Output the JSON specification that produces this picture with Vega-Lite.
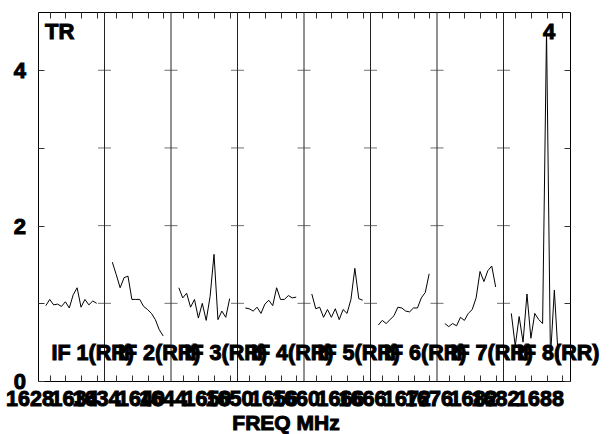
{
  "$schema": "https://vega.github.io/schema/vega-lite/v6.json",
  "width": 532,
  "height": 369,
  "autosize": {"type": "none"},
  "padding": {"left": 38, "top": 12, "right": 44, "bottom": 53},
  "background": "white",
  "config": {
    "view": {"stroke": "black", "strokeWidth": 1},
    "font": "Liberation Sans",
    "axis": {"grid": false, "domain": false, "tickColor": "#333", "tickWidth": 1},
    "text": {"font": "Liberation Sans", "fontWeight": "bold", "color": "black", "stroke": "black", "strokeWidth": 1, "baseline": "alphabetic"}
  },
  "datasets": {
    "ifs": [
      {"ifn": 1, "start": 0, "label": "IF 1(RR)", "fa": "1628", "fb": "1634"},
      {"ifn": 2, "start": 17, "label": "IF 2(RR)", "fa": "1634", "fb": "1640"},
      {"ifn": 3, "start": 34, "label": "IF 3(RR)", "fa": "1644", "fb": "1650"},
      {"ifn": 4, "start": 51, "label": "IF 4(RR)", "fa": "1650", "fb": "1656"},
      {"ifn": 5, "start": 68, "label": "IF 5(RR)", "fa": "1660", "fb": "1666"},
      {"ifn": 6, "start": 85, "label": "IF 6(RR)", "fa": "1666", "fb": "1672"},
      {"ifn": 7, "start": 102, "label": "IF 7(RR)", "fa": "1676", "fb": "1682"},
      {"ifn": 8, "start": 119, "label": "IF 8(RR)", "fa": "1682", "fb": "1688"}
    ],
    "ylab": [{"v": 0}, {"v": 2}, {"v": 4}],
    "notes": [{"t": "TR", "x": 0, "y": 4.75}, {"t": "4", "x": 130, "y": 4.75}, {"t": "FREQ MHz", "x": 63.4, "y": 0}],
    "spec": [
      {"ifn": 1, "x": 2, "v": 0.97}, {"ifn": 1, "x": 3, "v": 1.05}, {"ifn": 1, "x": 4, "v": 0.98}, {"ifn": 1, "x": 5, "v": 0.99},
      {"ifn": 1, "x": 6, "v": 0.96}, {"ifn": 1, "x": 7, "v": 1.02}, {"ifn": 1, "x": 8, "v": 0.94}, {"ifn": 1, "x": 9, "v": 1.11},
      {"ifn": 1, "x": 10, "v": 1.2}, {"ifn": 1, "x": 11, "v": 0.95}, {"ifn": 1, "x": 12, "v": 1.05}, {"ifn": 1, "x": 13, "v": 0.98},
      {"ifn": 1, "x": 14, "v": 1.03}, {"ifn": 1, "x": 15, "v": 1.0},
      {"ifn": 2, "x": 19, "v": 1.53}, {"ifn": 2, "x": 20, "v": 1.37}, {"ifn": 2, "x": 21, "v": 1.2}, {"ifn": 2, "x": 22, "v": 1.33},
      {"ifn": 2, "x": 23, "v": 1.35}, {"ifn": 2, "x": 24, "v": 1.05}, {"ifn": 2, "x": 25, "v": 1.05}, {"ifn": 2, "x": 26, "v": 1.05},
      {"ifn": 2, "x": 27, "v": 0.96}, {"ifn": 2, "x": 28, "v": 0.92}, {"ifn": 2, "x": 29, "v": 0.87}, {"ifn": 2, "x": 30, "v": 0.79},
      {"ifn": 2, "x": 31, "v": 0.66}, {"ifn": 2, "x": 32, "v": 0.58},
      {"ifn": 3, "x": 36, "v": 1.2}, {"ifn": 3, "x": 37, "v": 1.07}, {"ifn": 3, "x": 38, "v": 1.13}, {"ifn": 3, "x": 39, "v": 0.95},
      {"ifn": 3, "x": 40, "v": 1.05}, {"ifn": 3, "x": 41, "v": 0.81}, {"ifn": 3, "x": 42, "v": 1.0}, {"ifn": 3, "x": 43, "v": 0.78},
      {"ifn": 3, "x": 44, "v": 1.09}, {"ifn": 3, "x": 45, "v": 1.63}, {"ifn": 3, "x": 46, "v": 0.79}, {"ifn": 3, "x": 47, "v": 0.9},
      {"ifn": 3, "x": 48, "v": 0.82}, {"ifn": 3, "x": 49, "v": 1.06},
      {"ifn": 4, "x": 53, "v": 0.94}, {"ifn": 4, "x": 54, "v": 0.93}, {"ifn": 4, "x": 55, "v": 0.9}, {"ifn": 4, "x": 56, "v": 0.95},
      {"ifn": 4, "x": 57, "v": 0.87}, {"ifn": 4, "x": 58, "v": 0.99}, {"ifn": 4, "x": 59, "v": 1.04}, {"ifn": 4, "x": 60, "v": 0.97},
      {"ifn": 4, "x": 61, "v": 1.2}, {"ifn": 4, "x": 62, "v": 1.05}, {"ifn": 4, "x": 63, "v": 1.05}, {"ifn": 4, "x": 64, "v": 1.1},
      {"ifn": 4, "x": 65, "v": 1.07}, {"ifn": 4, "x": 66, "v": 1.08},
      {"ifn": 5, "x": 70, "v": 1.12}, {"ifn": 5, "x": 71, "v": 0.93}, {"ifn": 5, "x": 72, "v": 0.95}, {"ifn": 5, "x": 73, "v": 0.82},
      {"ifn": 5, "x": 74, "v": 0.92}, {"ifn": 5, "x": 75, "v": 0.82}, {"ifn": 5, "x": 76, "v": 0.93}, {"ifn": 5, "x": 77, "v": 0.79},
      {"ifn": 5, "x": 78, "v": 0.92}, {"ifn": 5, "x": 79, "v": 0.87}, {"ifn": 5, "x": 80, "v": 1.05}, {"ifn": 5, "x": 81, "v": 1.45},
      {"ifn": 5, "x": 82, "v": 1.06}, {"ifn": 5, "x": 83, "v": 1.04},
      {"ifn": 6, "x": 87, "v": 0.72}, {"ifn": 6, "x": 88, "v": 0.78}, {"ifn": 6, "x": 89, "v": 0.74}, {"ifn": 6, "x": 90, "v": 0.79},
      {"ifn": 6, "x": 91, "v": 0.84}, {"ifn": 6, "x": 92, "v": 0.95}, {"ifn": 6, "x": 93, "v": 0.94}, {"ifn": 6, "x": 94, "v": 0.9},
      {"ifn": 6, "x": 95, "v": 0.89}, {"ifn": 6, "x": 96, "v": 0.94}, {"ifn": 6, "x": 97, "v": 0.94}, {"ifn": 6, "x": 98, "v": 1.07},
      {"ifn": 6, "x": 99, "v": 1.14}, {"ifn": 6, "x": 100, "v": 1.38},
      {"ifn": 7, "x": 104, "v": 0.74}, {"ifn": 7, "x": 105, "v": 0.7}, {"ifn": 7, "x": 106, "v": 0.74}, {"ifn": 7, "x": 107, "v": 0.71},
      {"ifn": 7, "x": 108, "v": 0.82}, {"ifn": 7, "x": 109, "v": 0.78}, {"ifn": 7, "x": 110, "v": 0.87}, {"ifn": 7, "x": 111, "v": 0.92},
      {"ifn": 7, "x": 112, "v": 1.07}, {"ifn": 7, "x": 113, "v": 1.41}, {"ifn": 7, "x": 114, "v": 1.28}, {"ifn": 7, "x": 115, "v": 1.42},
      {"ifn": 7, "x": 116, "v": 1.48}, {"ifn": 7, "x": 117, "v": 1.21},
      {"ifn": 8, "x": 121, "v": 0.87}, {"ifn": 8, "x": 122, "v": 0.45}, {"ifn": 8, "x": 123, "v": 0.83}, {"ifn": 8, "x": 124, "v": 0.5},
      {"ifn": 8, "x": 125, "v": 1.12}, {"ifn": 8, "x": 126, "v": 0.55}, {"ifn": 8, "x": 127, "v": 0.87}, {"ifn": 8, "x": 128, "v": 0.79},
      {"ifn": 8, "x": 129, "v": 0.74}, {"ifn": 8, "x": 130, "v": 4.51}, {"ifn": 8, "x": 131, "v": 0.3}, {"ifn": 8, "x": 132, "v": 1.17},
      {"ifn": 8, "x": 133, "v": 0.3}
    ]
  },
  "resolve": {"axis": {"x": "independent", "y": "independent"}},
  "layer": [
    {
      "data": {"name": "spec"},
      "mark": {"type": "line", "color": "black", "strokeWidth": 1},
      "encoding": {
        "x": {"field": "x", "type": "quantitative",
              "scale": {"domain": [0, 136], "nice": false, "zero": false},
              "axis": {"orient": "bottom", "values": [3,7,11,15,20,24,28,32,37,41,45,49,54,58,62,66,71,75,79,83,88,92,96,100,105,109,113,117,122,126,130,134],
                       "labels": false, "tickSize": -6, "title": null}},
        "y": {"field": "v", "type": "quantitative",
              "scale": {"domain": [0, 4.75], "nice": false, "zero": true},
              "axis": {"orient": "left", "values": [0,1,2,3,4], "tickSize": -6, "labels": false, "title": null}},
        "detail": {"field": "ifn"}
      }
    },
    {
      "data": {"name": "ifs"},
      "transform": [{"filter": "datum.start > 0"}],
      "mark": {"type": "rule", "color": "#222", "strokeWidth": 1},
      "encoding": {
        "x": {"field": "start", "type": "quantitative",
              "axis": {"orient": "top", "values": [3,7,11,15,20,24,28,32,37,41,45,49,54,58,62,66,71,75,79,83,88,92,96,100,105,109,113,117,122,126,130,134],
                       "labels": false, "tickSize": -6, "title": null}},
        "y": {"datum": 0, "type": "quantitative",
              "axis": {"orient": "right", "values": [0,1,2,3,4], "labels": false, "tickSize": -6, "title": null}},
        "y2": {"datum": 4.75}
      }
    },
    {
      "data": {"name": "ifs"},
      "transform": [{"filter": "datum.start > 0"}],
      "mark": {"type": "tick", "orient": "horizontal", "size": 13, "thickness": 1, "color": "#333"},
      "encoding": {"x": {"field": "start", "type": "quantitative", "axis": null}, "y": {"datum": 1, "type": "quantitative", "axis": null}}
    },
    {
      "data": {"name": "ifs"},
      "transform": [{"filter": "datum.start > 0"}],
      "mark": {"type": "tick", "orient": "horizontal", "size": 13, "thickness": 1, "color": "#333"},
      "encoding": {"x": {"field": "start", "type": "quantitative", "axis": null}, "y": {"datum": 2, "type": "quantitative", "axis": null}}
    },
    {
      "data": {"name": "ifs"},
      "transform": [{"filter": "datum.start > 0"}],
      "mark": {"type": "tick", "orient": "horizontal", "size": 13, "thickness": 1, "color": "#333"},
      "encoding": {"x": {"field": "start", "type": "quantitative", "axis": null}, "y": {"datum": 3, "type": "quantitative", "axis": null}}
    },
    {
      "data": {"name": "ifs"},
      "transform": [{"filter": "datum.start > 0"}],
      "mark": {"type": "tick", "orient": "horizontal", "size": 13, "thickness": 1, "color": "#333"},
      "encoding": {"x": {"field": "start", "type": "quantitative", "axis": null}, "y": {"datum": 4, "type": "quantitative", "axis": null}}
    },
    {
      "data": {"name": "ylab"},
      "mark": {"type": "text", "align": "right", "baseline": "middle", "dx": -12, "dy": 1, "fontSize": 22},
      "encoding": {"x": {"datum": 0, "type": "quantitative", "axis": null}, "y": {"field": "v", "type": "quantitative", "axis": null}, "text": {"field": "v"}}
    },
    {
      "data": {"name": "ifs"},
      "mark": {"type": "text", "align": "left", "dx": 13.5, "dy": -21, "fontSize": 21.5},
      "encoding": {"x": {"field": "start", "type": "quantitative", "axis": null}, "y": {"datum": 0, "type": "quantitative", "axis": null}, "text": {"field": "label"}}
    },
    {
      "data": {"name": "ifs"},
      "mark": {"type": "text", "align": "center", "dx": -8, "dy": 25, "fontSize": 21.5},
      "encoding": {"x": {"field": "start", "type": "quantitative", "axis": null}, "y": {"datum": 0, "type": "quantitative", "axis": null}, "text": {"field": "fa"}}
    },
    {
      "data": {"name": "ifs"},
      "mark": {"type": "text", "align": "center", "dx": 36.5, "dy": 25, "fontSize": 21.5},
      "encoding": {"x": {"field": "start", "type": "quantitative", "axis": null}, "y": {"datum": 0, "type": "quantitative", "axis": null}, "text": {"field": "fb"}}
    },
    {
      "data": {"name": "notes"},
      "transform": [{"filter": "datum.t == 'FREQ MHz'"}],
      "mark": {"type": "text", "align": "center", "dy": 49, "fontSize": 21},
      "encoding": {"x": {"field": "x", "type": "quantitative", "axis": null}, "y": {"field": "y", "type": "quantitative", "axis": null}, "text": {"field": "t"}}
    },
    {
      "data": {"name": "notes"},
      "transform": [{"filter": "datum.t == 'TR'"}],
      "mark": {"type": "text", "align": "left", "dx": 7, "dy": 27, "fontSize": 22},
      "encoding": {"x": {"field": "x", "type": "quantitative", "axis": null}, "y": {"field": "y", "type": "quantitative", "axis": null}, "text": {"field": "t"}}
    },
    {
      "data": {"name": "notes"},
      "transform": [{"filter": "datum.t == '4'"}],
      "mark": {"type": "text", "align": "center", "dx": 2.5, "dy": 27, "fontSize": 22},
      "encoding": {"x": {"field": "x", "type": "quantitative", "axis": null}, "y": {"field": "y", "type": "quantitative", "axis": null}, "text": {"field": "t"}}
    }
  ]
}
